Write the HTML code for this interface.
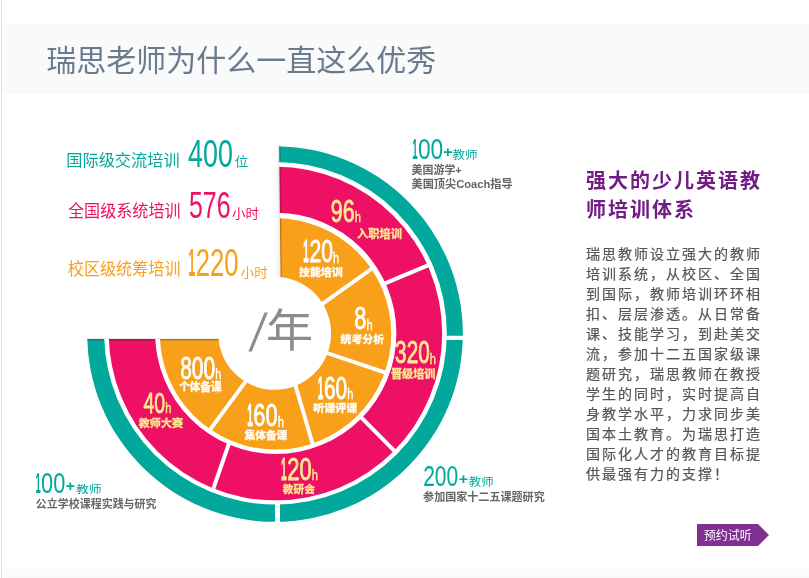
<!DOCTYPE html>
<html lang="zh-CN"><head><meta charset="utf-8"><title>瑞思老师为什么一直这么优秀</title>
<style>
html,body{margin:0;padding:0}
body{width:809px;height:578px;position:relative;overflow:hidden;background:#fff;font-family:"Liberation Sans","Noto Sans CJK SC",sans-serif}
.bl{position:absolute;left:1px;top:0;width:1px;height:578px;background:#e3e3e3}
.hd{position:absolute;left:2px;top:24px;width:807px;height:70px;background:#fafafa}
.hd h1{position:absolute;left:44.2px;top:2.3px;margin:0;font-weight:400;font-size:30px;line-height:70px;color:#6a7b8f;white-space:nowrap}
.ft{position:absolute;left:2px;top:569px;width:807px;height:9px;background:#fafafa}
.rt{position:absolute;left:586px;top:0;width:200px}
.rt h2{position:absolute;left:0;top:167px;margin:0;font-size:20px;line-height:29px;font-weight:700;color:#721c85;letter-spacing:2px;white-space:nowrap}
.rt p{position:absolute;left:0;top:244.3px;margin:0;font-size:14px;line-height:20px;color:#555;-webkit-text-stroke:0.2px #555;letter-spacing:2px;white-space:nowrap}
.btn{position:absolute;left:697px;top:524px;width:72px;height:22px;background:#7f3092;color:#fff;font-size:12px;line-height:22px;clip-path:polygon(0 0,61px 0,72px 11px,61px 22px,0 22px)}
.btn span{position:absolute;left:6.7px;top:0.6px;white-space:nowrap}
</style></head>
<body>
<div class="bl"></div>
<div class="hd"><h1>瑞思老师为什么一直这么优秀</h1></div>
<svg width="809" height="578" viewBox="0 0 809 578" style="position:absolute;left:0;top:0">
<defs>
<clipPath id="cut"><path d="M277.7 0H809V578H0V339.1H281.1Z"/></clipPath>
<linearGradient id="shv" x1="0" x2="1" y1="0" y2="0"><stop offset="0" stop-color="#000" stop-opacity="0.32"/><stop offset="1" stop-color="#000" stop-opacity="0"/></linearGradient>
<linearGradient id="shh" x1="0" x2="0" y1="0" y2="1"><stop offset="0" stop-color="#000" stop-opacity="0.32"/><stop offset="1" stop-color="#000" stop-opacity="0"/></linearGradient>
<clipPath id="rings"><path clip-rule="evenodd" d="M87.35 333.6a187.85 187.85 0 1 0 375.7 0a187.85 187.85 0 1 0 -375.7 0ZM103.89999999999998 333.6a171.3 171.3 0 1 0 342.6 0a171.3 171.3 0 1 0 -342.6 0ZM108.5 333.6a166.7 166.7 0 1 0 333.4 0a166.7 166.7 0 1 0 -333.4 0ZM154.6 333.6a120.6 120.6 0 1 0 241.2 0a120.6 120.6 0 1 0 -241.2 0ZM159.5 333.6a115.7 115.7 0 1 0 231.4 0a115.7 115.7 0 1 0 -231.4 0ZM218.7 333.6a56.5 56.5 0 1 0 113.0 0a56.5 56.5 0 1 0 -113.0 0Z"/></clipPath>
</defs>
<path d="M278.7 146L279.9 277.5" stroke="#e9e9e9" stroke-width="1" fill="none"/><path d="M87.5 338.4H218" stroke="#ececec" stroke-width="1" fill="none"/>
<linearGradient id="shl" x1="0" x2="1" y1="0" y2="0"><stop offset="0" stop-color="#000" stop-opacity="0"/><stop offset="1" stop-color="#000" stop-opacity="0.04"/></linearGradient><rect x="273.5" y="146" width="5.5" height="131" fill="url(#shl)"/>
<g clip-path="url(#cut)">
<path fill-rule="evenodd" fill="#03a89c" d="M87.15 334.00a187.85 187.85 0 1 0 375.7 0a187.85 187.85 0 1 0 -375.7 0ZM104.20 333.30a171.3 171.3 0 1 0 342.6 0a171.3 171.3 0 1 0 -342.6 0Z"/>
<path fill-rule="evenodd" fill="#ed1064" d="M108.80 333.55a166.7 166.7 0 1 0 333.4 0a166.7 166.7 0 1 0 -333.4 0ZM155.20 333.40a120.6 120.6 0 1 0 241.2 0a120.6 120.6 0 1 0 -241.2 0Z"/>
<path fill-rule="evenodd" fill="#f8a01a" d="M159.90 333.90a115.7 115.7 0 1 0 231.4 0a115.7 115.7 0 1 0 -231.4 0ZM218.10 333.30a56.5 56.5 0 1 0 113.0 0a56.5 56.5 0 1 0 -113.0 0Z"/>
<line x1="277.5" y1="503.40000000000003" x2="277.5" y2="523.45" stroke="#fff" stroke-width="5"/>
<line x1="445.0" y1="337.9" x2="465.04999999999995" y2="337.9" stroke="#fff" stroke-width="4.2"/>
<line x1="383.77" y1="283.90" x2="428.50" y2="265.13" stroke="#fff" stroke-width="4.0"/>
<line x1="360.68" y1="416.96" x2="394.87" y2="451.37" stroke="#fff" stroke-width="4.0"/>
<line x1="228.92" y1="443.67" x2="213.00" y2="489.55" stroke="#fff" stroke-width="4.0"/>
<line x1="322.02" y1="304.16" x2="372.25" y2="268.44" stroke="#fff" stroke-width="3.9"/>
<line x1="326.99" y1="352.99" x2="385.40" y2="372.60" stroke="#fff" stroke-width="3.9"/>
<line x1="295.36" y1="385.09" x2="312.74" y2="444.31" stroke="#fff" stroke-width="3.9"/>
<line x1="246.24" y1="380.71" x2="209.58" y2="430.34" stroke="#fff" stroke-width="3.9"/>
<g clip-path="url(#rings)">
<rect x="0" y="0" width="2.2" height="139.1" fill="url(#shv)" transform="translate(279.1 140) skewX(0.57)"/>
<rect x="80" y="339.1" width="140.7" height="2.2" fill="url(#shh)"/>
</g>
</g>
<text transform="translate(66.24 165.54) scale(0.9958 1)" font-size="16.28" fill="#03a89c" style="font-family:&quot;Liberation Sans&quot;, &quot;Noto Sans CJK SC&quot;, sans-serif">国际级交流培训</text>
<text y="166.71" font-size="39.15" fill="#03a89c" style="font-family:&quot;Liberation Sans&quot;, sans-serif"><tspan x="188.11" textLength="44.76" lengthAdjust="spacingAndGlyphs">400</tspan></text>
<text transform="translate(234.66 166.08) scale(1.0566 1)" font-size="12.69" fill="#03a89c" style="font-family:&quot;Liberation Sans&quot;, &quot;Noto Sans CJK SC&quot;, sans-serif">位</text>
<text transform="translate(68.02 216.68) scale(0.9516 1)" font-size="16.91" fill="#ed1064" style="font-family:&quot;Liberation Sans&quot;, &quot;Noto Sans CJK SC&quot;, sans-serif">全国级系统培训</text>
<text y="217.93" font-size="37.46" fill="#ed1064" style="font-family:&quot;Liberation Sans&quot;, sans-serif"><tspan x="188.90" textLength="41.65" lengthAdjust="spacingAndGlyphs">576</tspan></text>
<text transform="translate(232.10 218.46) scale(1.0617 1)" font-size="12.69" fill="#ed1064" style="font-family:&quot;Liberation Sans&quot;, &quot;Noto Sans CJK SC&quot;, sans-serif">小时</text>
<text transform="translate(67.82 275.18) scale(0.9533 1)" font-size="16.91" fill="#f8a01a" style="font-family:&quot;Liberation Sans&quot;, &quot;Noto Sans CJK SC&quot;, sans-serif">校区级统筹培训</text>
<text y="276.41" font-size="38.73" fill="#f8a01a" style="font-family:&quot;Liberation Sans&quot;, sans-serif"><tspan x="188.21" font-weight="700" textLength="7.08" lengthAdjust="spacingAndGlyphs">1</tspan><tspan x="195.63" textLength="42.80" lengthAdjust="spacingAndGlyphs">220</tspan></text>
<text transform="translate(240.80 276.57) scale(1.0667 1)" font-size="12.58" fill="#f8a01a" style="font-family:&quot;Liberation Sans&quot;, &quot;Noto Sans CJK SC&quot;, sans-serif">小时</text>
<text y="221.69" font-size="30.68" fill="#fde98d" stroke="#fde98d" stroke-width="0.86" style="font-family:&quot;Liberation Sans&quot;, sans-serif"><tspan x="330.86" textLength="23.91" lengthAdjust="spacingAndGlyphs">96</tspan><tspan x="354.83" y="222.15" font-size="15.07" stroke-width="0.42" textLength="6.18" lengthAdjust="spacingAndGlyphs">h</tspan></text>
<text transform="translate(357.09 237.85) scale(0.9904 1)" font-size="11.33" font-weight="700" fill="#fde98d" stroke="#fde98d" stroke-width="0.34" style="font-family:&quot;Liberation Sans&quot;, &quot;Noto Sans CJK SC&quot;, sans-serif">入职培训</text>
<text y="262.18" font-size="30.82" fill="#ffffff" stroke="#ffffff" stroke-width="0.86" style="font-family:&quot;Liberation Sans&quot;, sans-serif"><tspan x="303.24" font-weight="700" textLength="5.55" lengthAdjust="spacingAndGlyphs">1</tspan><tspan x="309.39" textLength="23.56" lengthAdjust="spacingAndGlyphs">20</tspan><tspan x="333.03" y="262.65" font-size="15.07" stroke-width="0.42" textLength="6.18" lengthAdjust="spacingAndGlyphs">h</tspan></text>
<text transform="translate(298.89 276.34) scale(1.0456 1)" font-size="10.51" font-weight="700" fill="#ffffff" stroke="#ffffff" stroke-width="0.32" style="font-family:&quot;Liberation Sans&quot;, &quot;Noto Sans CJK SC&quot;, sans-serif">技能培训</text>
<text y="329.39" font-size="30.55" fill="#ffffff" stroke="#ffffff" stroke-width="0.86" style="font-family:&quot;Liberation Sans&quot;, sans-serif"><tspan x="354.35" textLength="12.12" lengthAdjust="spacingAndGlyphs">8</tspan><tspan x="366.53" y="329.85" font-size="15.07" stroke-width="0.42" textLength="6.18" lengthAdjust="spacingAndGlyphs">h</tspan></text>
<text transform="translate(340.50 342.74) scale(1.0409 1)" font-size="10.50" font-weight="700" fill="#ffffff" stroke="#ffffff" stroke-width="0.32" style="font-family:&quot;Liberation Sans&quot;, &quot;Noto Sans CJK SC&quot;, sans-serif">统考分析</text>
<text y="363.19" font-size="30.68" fill="#fde98d" stroke="#fde98d" stroke-width="0.86" style="font-family:&quot;Liberation Sans&quot;, sans-serif"><tspan x="395.08" textLength="34.66" lengthAdjust="spacingAndGlyphs">320</tspan><tspan x="429.83" y="363.65" font-size="15.07" stroke-width="0.42" textLength="6.18" lengthAdjust="spacingAndGlyphs">h</tspan></text>
<text transform="translate(390.97 377.88) scale(1.0111 1)" font-size="11.00" font-weight="700" fill="#fde98d" stroke="#fde98d" stroke-width="0.33" style="font-family:&quot;Liberation Sans&quot;, &quot;Noto Sans CJK SC&quot;, sans-serif">晋级培训</text>
<text y="398.58" font-size="30.82" fill="#ffffff" stroke="#ffffff" stroke-width="0.86" style="font-family:&quot;Liberation Sans&quot;, sans-serif"><tspan x="317.74" font-weight="700" textLength="5.55" lengthAdjust="spacingAndGlyphs">1</tspan><tspan x="323.91" textLength="23.14" lengthAdjust="spacingAndGlyphs">60</tspan><tspan x="347.13" y="399.05" font-size="15.07" stroke-width="0.42" textLength="6.18" lengthAdjust="spacingAndGlyphs">h</tspan></text>
<text transform="translate(313.35 411.74) scale(1.0481 1)" font-size="10.51" font-weight="700" fill="#ffffff" stroke="#ffffff" stroke-width="0.32" style="font-family:&quot;Liberation Sans&quot;, &quot;Noto Sans CJK SC&quot;, sans-serif">听课评课</text>
<text y="426.38" font-size="30.82" fill="#ffffff" stroke="#ffffff" stroke-width="0.86" style="font-family:&quot;Liberation Sans&quot;, sans-serif"><tspan x="247.24" font-weight="700" textLength="5.55" lengthAdjust="spacingAndGlyphs">1</tspan><tspan x="253.37" textLength="24.20" lengthAdjust="spacingAndGlyphs">60</tspan><tspan x="277.63" y="426.85" font-size="15.07" stroke-width="0.42" textLength="6.18" lengthAdjust="spacingAndGlyphs">h</tspan></text>
<text transform="translate(244.51 438.86) scale(1.0305 1)" font-size="10.40" font-weight="700" fill="#ffffff" stroke="#ffffff" stroke-width="0.31" style="font-family:&quot;Liberation Sans&quot;, &quot;Noto Sans CJK SC&quot;, sans-serif">集体备课</text>
<text y="378.98" font-size="30.82" fill="#ffffff" stroke="#ffffff" stroke-width="0.86" style="font-family:&quot;Liberation Sans&quot;, sans-serif"><tspan x="180.17" textLength="34.87" lengthAdjust="spacingAndGlyphs">800</tspan><tspan x="215.13" y="379.45" font-size="15.07" stroke-width="0.42" textLength="6.18" lengthAdjust="spacingAndGlyphs">h</tspan></text>
<text transform="translate(178.90 391.41) scale(0.9891 1)" font-size="10.82" font-weight="700" fill="#ffffff" stroke="#ffffff" stroke-width="0.32" style="font-family:&quot;Liberation Sans&quot;, &quot;Noto Sans CJK SC&quot;, sans-serif">个体备课</text>
<text y="412.69" font-size="30.41" fill="#fde98d" stroke="#fde98d" stroke-width="0.85" style="font-family:&quot;Liberation Sans&quot;, sans-serif"><tspan x="143.50" textLength="21.71" lengthAdjust="spacingAndGlyphs">40</tspan><tspan x="165.33" y="413.15" font-size="15.07" stroke-width="0.42" textLength="6.18" lengthAdjust="spacingAndGlyphs">h</tspan></text>
<text transform="translate(138.80 427.42) scale(1.0320 1)" font-size="10.71" font-weight="700" fill="#fde98d" stroke="#fde98d" stroke-width="0.32" style="font-family:&quot;Liberation Sans&quot;, &quot;Noto Sans CJK SC&quot;, sans-serif">教师大赛</text>
<text y="479.78" font-size="31.23" fill="#fde98d" stroke="#fde98d" stroke-width="0.87" style="font-family:&quot;Liberation Sans&quot;, sans-serif"><tspan x="281.12" font-weight="700" textLength="5.63" lengthAdjust="spacingAndGlyphs">1</tspan><tspan x="287.34" textLength="24.33" lengthAdjust="spacingAndGlyphs">20</tspan><tspan x="311.73" y="480.25" font-size="15.07" stroke-width="0.42" textLength="6.18" lengthAdjust="spacingAndGlyphs">h</tspan></text>
<text transform="translate(282.80 492.54) scale(1.0190 1)" font-size="10.50" font-weight="700" fill="#fde98d" stroke="#fde98d" stroke-width="0.32" style="font-family:&quot;Liberation Sans&quot;, &quot;Noto Sans CJK SC&quot;, sans-serif">教研会</text>
<text transform="translate(248.50 350.90) skewX(-11.0) scale(0.8 1)" font-size="53.29" fill="#8c8c8c" style="font-family:&quot;Liberation Sans&quot;, sans-serif">/</text>
<text transform="translate(266.04 347.30) scale(1.0457 1)" font-size="45.05" fill="#8c8c8c" style="font-family:&quot;Liberation Sans&quot;, &quot;Noto Sans CJK SC&quot;, sans-serif">年</text>
<text y="159.31" font-size="29.30" fill="#03a89c" style="font-family:&quot;Liberation Sans&quot;, sans-serif"><tspan x="412.22" font-weight="700" textLength="5.35" lengthAdjust="spacingAndGlyphs">1</tspan><tspan x="417.89" textLength="25.33" lengthAdjust="spacingAndGlyphs">00</tspan></text>
<text transform="translate(442.94 157.31) scale(1.0995 1)" font-size="15.10" font-weight="700" fill="#03a89c" style="font-family:&quot;Liberation Sans&quot;, sans-serif">+</text>
<text transform="translate(452.29 158.59) scale(1.1330 1)" font-size="11.18" fill="#03a89c" style="font-family:&quot;Liberation Sans&quot;, &quot;Noto Sans CJK SC&quot;, sans-serif">教师</text>
<text transform="translate(411.47 174.19) scale(0.9764 1)" font-size="11.26" font-weight="700" fill="#666666" style="font-family:&quot;Liberation Sans&quot;, &quot;Noto Sans CJK SC&quot;, sans-serif">美国游学+</text>
<text transform="translate(411.46 188.38) scale(0.9836 1)" font-size="11.37" font-weight="700" fill="#666666" style="font-family:&quot;Liberation Sans&quot;, &quot;Noto Sans CJK SC&quot;, sans-serif">美国顶尖Coach指导</text>
<text y="492.91" font-size="28.59" fill="#03a89c" style="font-family:&quot;Liberation Sans&quot;, sans-serif"><tspan x="35.55" font-weight="700" textLength="5.22" lengthAdjust="spacingAndGlyphs">1</tspan><tspan x="41.11" textLength="24.18" lengthAdjust="spacingAndGlyphs">00</tspan></text>
<text transform="translate(65.87 490.94) scale(1.0200 1)" font-size="15.49" font-weight="700" fill="#03a89c" style="font-family:&quot;Liberation Sans&quot;, sans-serif">+</text>
<text transform="translate(75.88 492.64) scale(1.2148 1)" font-size="10.65" fill="#03a89c" style="font-family:&quot;Liberation Sans&quot;, &quot;Noto Sans CJK SC&quot;, sans-serif">教师</text>
<text transform="translate(35.76 508.29) scale(0.9885 1)" font-size="11.13" font-weight="700" fill="#666666" style="font-family:&quot;Liberation Sans&quot;, &quot;Noto Sans CJK SC&quot;, sans-serif">公立学校课程实践与研究</text>
<text y="486.31" font-size="29.15" fill="#03a89c" style="font-family:&quot;Liberation Sans&quot;, sans-serif"><tspan x="423.15" textLength="35.11" lengthAdjust="spacingAndGlyphs">200</tspan></text>
<text transform="translate(458.76 483.94) scale(1.0329 1)" font-size="15.49" font-weight="700" fill="#03a89c" style="font-family:&quot;Liberation Sans&quot;, sans-serif">+</text>
<text transform="translate(468.80 485.55) scale(1.0730 1)" font-size="11.61" fill="#03a89c" style="font-family:&quot;Liberation Sans&quot;, &quot;Noto Sans CJK SC&quot;, sans-serif">教师</text>
<text transform="translate(423.07 501.38) scale(0.9851 1)" font-size="11.24" font-weight="700" fill="#666666" style="font-family:&quot;Liberation Sans&quot;, &quot;Noto Sans CJK SC&quot;, sans-serif">参加国家十二五课题研究</text>
</svg>
<div class="rt"><h2>强大的少儿英语教<br>师培训体系</h2>
<p>瑞思教师设立强大的教师<br>培训系统，从校区、全国<br>到国际，教师培训环环相<br>扣、层层渗透。从日常备<br>课、技能学习，到赴美交<br>流，参加十二五国家级课<br>题研究，瑞思教师在教授<br>学生的同时，实时提高自<br>身教学水平，力求同步美<br>国本土教育。为瑞思打造<br>国际化人才的教育目标提<br>供最强有力的支撑！</p></div>
<div class="btn"><span>预约试听</span></div>
<div class="ft"></div>
</body></html>
